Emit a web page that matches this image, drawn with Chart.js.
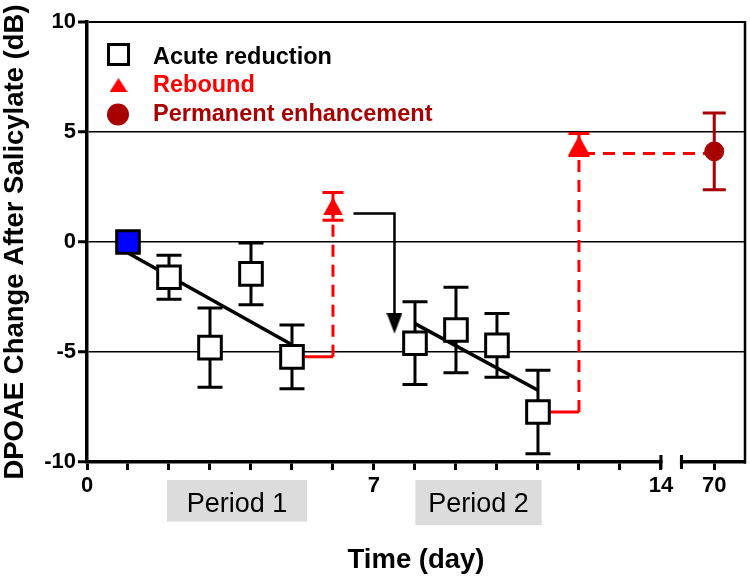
<!DOCTYPE html>
<html lang="en">
<head>
<meta charset="UTF-8">
<title>DPOAE Change After Salicylate</title>
<style>
  body { margin: 0; background: #fff; }
  #wrap { width: 750px; height: 581px; }
</style>
<script src="https://cdn.jsdelivr.net/npm/chart.js"></script>
</head>
<body>
<div id="wrap"><canvas id="grafico" width="750" height="581"></canvas></div>
<script>
// valores (dias, dB)
const acuteDays = [1, 2, 3, 4, 5, 8, 9, 10, 11];
const acuteMean = [0, -1.6, -4.8, -1.45, -5.22, -4.6, -4.0, -4.7, -7.73];
const acuteErr  = [0, 1.0, 1.8, 1.4, 1.45, 1.88, 1.94, 1.45, 1.9];

const reboundDays = [6, 12];
const reboundMean = [1.62, 4.43];
const reboundErr  = [0.63, 0.5];

const permDays = [70];
const permMean = [4.12];
const permErr  = [1.74];

// retas de regressao de cada periodo
const fit1Days = [1, 5];
const fit1Vals = [-0.5, -4.67];
const fit2Days = [8, 11];
const fit2Vals = [-3.71, -6.74];

// ligacoes ate o rebound (horizontal cheia, vertical tracejada)
const step1Days = [5, 6, 6];
const step1Vals = [-5.22, -5.22, 1.62];
const step2Days = [11, 12, 12];
const step2Vals = [-7.73, -7.73, 4.43];
const holdDays = [12, 70];
const holdVals = [4.02, 4.02];

// seta do rebound para o periodo 2
const arrowDays = [6.5, 7.5, 7.5];
const arrowVals = [1.3, 1.3, -3.69];

const yTicks = [-10, -5, 0, 5, 10];
const xTickDays = [0, 1, 2, 3, 4, 5, 6, 7, 8, 9, 10, 11, 12, 13, 14, 70];
const xTickLabels = ['0', '', '', '', '', '', '', '7', '', '', '', '', '', '', '14', '70'];

const periods = [
    { label: 'Period 1', from: 1.95, to: 5.37, h: 41.5 },
    { label: 'Period 2', from: 8.01, to: 11.09, h: 45 }
];

// quebra do eixo x: 14 | 69.2 .. 70.75
const breakDay = 69.2;
const lastDay = 70.75;
function axisX(d) { return d > 14 ? d - breakDay + 14.5 : d; }
function pts(days, vals) { return days.map((d, i) => ({ x: axisX(d), y: vals[i] })); }

const RED = '#ff0000';
const DARKRED = '#a80000';
const FONT = "'Liberation Sans', Arial, sans-serif";

function triangulo(w, h, color, down) {
    const c = document.createElement('canvas');
    c.width = w; c.height = h;
    const g = c.getContext('2d');
    g.fillStyle = color;
    g.beginPath();
    if (down) { g.moveTo(0, 0); g.lineTo(w, 0); g.lineTo(w / 2, h); }
    else { g.moveTo(w / 2, 0); g.lineTo(w, h); g.lineTo(0, h); }
    g.closePath();
    g.fill();
    return c;
}
const triRebound = triangulo(20, 18, RED, false);
const triLegend = triangulo(18, 14, RED, false);
const arrowHead = triangulo(16, 21, '#000', true);

// barras de erro desenhadas pelas escalas do grafico
const errorBars = {
    id: 'errorBars',
    beforeDatasetsDraw(chart) {
        const ctx = chart.ctx, xs = chart.scales.x, ys = chart.scales.y;
        chart.data.datasets.forEach(ds => {
            if (!ds.errors) return;
            ctx.save();
            ctx.strokeStyle = ds.errorColor;
            ctx.lineWidth = 3;
            ds.data.forEach((p, i) => {
                const e = ds.errors[i];
                if (!e) return;
                const px = xs.getPixelForValue(p.x);
                const top = ys.getPixelForValue(p.y + e);
                const bot = ys.getPixelForValue(p.y - e);
                const half = ds.capHalf;
                ctx.beginPath();
                ctx.moveTo(px, top); ctx.lineTo(px, bot);
                ctx.moveTo(px - half, top); ctx.lineTo(px + half, top);
                ctx.moveTo(px - half, bot); ctx.lineTo(px + half, bot);
                ctx.stroke();
            });
            ctx.restore();
        });
    }
};

// moldura, quebra do eixo, periodos e legenda
const extras = {
    id: 'extras',
    afterDraw(chart) {
        const ctx = chart.ctx, a = chart.chartArea, xs = chart.scales.x;
        ctx.save();

        // moldura direita
        ctx.strokeStyle = '#000';
        ctx.lineWidth = 2.5;
        ctx.beginPath();
        ctx.moveTo(a.right, a.top - 1);
        ctx.lineTo(a.right, a.bottom + 1.5);
        ctx.stroke();

        // quebra do eixo x
        const b0 = xs.getPixelForValue(14);
        const b1 = xs.getPixelForValue(axisX(breakDay));
        ctx.fillStyle = '#fff';
        ctx.fillRect(b0 + 1.5, a.bottom - 3, b1 - b0 - 3, 6);
        ctx.lineWidth = 3;
        ctx.beginPath();
        ctx.moveTo(b0, a.bottom - 7); ctx.lineTo(b0, a.bottom + 7);
        ctx.moveTo(b1, a.bottom - 7); ctx.lineTo(b1, a.bottom + 7);
        ctx.stroke();

        // caixas dos periodos
        periods.forEach(p => {
            const l = xs.getPixelForValue(p.from), r = xs.getPixelForValue(p.to);
            ctx.fillStyle = '#dcdcdc';
            ctx.fillRect(l, a.bottom + 18, r - l, p.h);
            ctx.fillStyle = '#000';
            ctx.font = '27px ' + FONT;
            ctx.textAlign = 'center';
            ctx.textBaseline = 'alphabetic';
            ctx.fillText(p.label, (l + r) / 2, a.bottom + 49.5);
        });

        // legenda
        const lx = a.left + 31.5, ty = a.top;
        ctx.fillStyle = '#fff';
        ctx.strokeStyle = '#000';
        ctx.lineWidth = 3;
        ctx.fillRect(lx - 10, ty + 22.5, 20, 20);
        ctx.strokeRect(lx - 10, ty + 22.5, 20, 20);
        ctx.drawImage(triLegend, lx - 9, ty + 56);
        ctx.fillStyle = DARKRED;
        ctx.beginPath();
        ctx.arc(lx - 0.5, ty + 92.5, 11, 0, Math.PI * 2);
        ctx.fill();

        ctx.font = 'bold 23.5px ' + FONT;
        ctx.textAlign = 'left';
        ctx.textBaseline = 'alphabetic';
        ctx.fillStyle = '#000';
        ctx.fillText('Acute reduction', a.left + 66, ty + 41.5);
        ctx.fillStyle = RED;
        ctx.fillText('Rebound', a.left + 66, ty + 70.3);
        ctx.fillStyle = DARKRED;
        ctx.fillText('Permanent enhancement', a.left + 66, ty + 99);
        ctx.restore();
    }
};

const ctx = document.getElementById('grafico').getContext('2d');
new Chart(ctx, {
    type: 'scatter',
    data: {
        datasets: [
            {
                label: 'Acute reduction',
                data: pts(acuteDays, acuteMean),
                errors: acuteErr, errorColor: '#000', capHalf: 12.5,
                pointStyle: 'rect',
                pointRadius: 16,
                borderWidth: 3,
                borderColor: '#000',
                backgroundColor: acuteDays.map((d, i) => i === 0 ? '#0000ff' : '#fff'),
                order: 1
            },
            {
                label: 'Rebound',
                data: pts(reboundDays, reboundMean),
                errors: reboundErr, errorColor: RED, capHalf: 10.5,
                pointStyle: triRebound,
                pointRadius: 10,
                order: 1
            },
            {
                label: 'Permanent enhancement',
                data: pts(permDays, permMean),
                errors: permErr, errorColor: DARKRED, capHalf: 11.5,
                pointStyle: 'circle',
                pointRadius: 9.5,
                borderWidth: 1,
                borderColor: DARKRED,
                backgroundColor: DARKRED,
                order: 1
            },
            {
                data: pts(fit1Days, fit1Vals),
                showLine: true, borderColor: '#000', borderWidth: 3.5, pointRadius: 0, order: 3
            },
            {
                data: pts(fit2Days, fit2Vals),
                showLine: true, borderColor: '#000', borderWidth: 3.5, pointRadius: 0, order: 3
            },
            {
                data: pts(step1Days, step1Vals),
                showLine: true, borderColor: RED, borderWidth: 3, pointRadius: 0, order: 4,
                segment: { borderDash: c => c.p0DataIndex === 1 ? [12, 8] : undefined }
            },
            {
                data: pts(step2Days, step2Vals),
                showLine: true, borderColor: RED, borderWidth: 3, pointRadius: 0, order: 4,
                segment: { borderDash: c => c.p0DataIndex === 1 ? [12, 8] : undefined }
            },
            {
                data: pts(holdDays, holdVals),
                showLine: true, borderColor: RED, borderWidth: 3, pointRadius: 0, order: 4,
                borderDash: [12, 8], borderDashOffset: 16
            },
            {
                data: pts(arrowDays, arrowVals),
                showLine: true, borderColor: '#000', borderWidth: 2.5, order: 2,
                pointStyle: arrowHead,
                pointRadius: c => c.dataIndex === arrowDays.length - 1 ? 10 : 0
            }
        ]
    },
    options: {
        responsive: false,
        animation: false,
        events: [],
        layout: { autoPadding: false, padding: { top: 22, right: 5, bottom: 0, left: 0 } },
        plugins: { legend: { display: false }, tooltip: { enabled: false } },
        scales: {
            x: {
                type: 'linear',
                min: 0,
                max: axisX(lastDay),
                afterFit: s => { s.height = 119; s.paddingLeft = 0; s.paddingRight = 0; },
                afterBuildTicks: s => { s.ticks = xTickDays.map(d => ({ value: axisX(d) })); },
                ticks: {
                    autoSkip: false,
                    maxRotation: 0,
                    padding: 2.5,
                    color: '#000',
                    font: { family: FONT, size: 22, weight: 'bold' },
                    callback: (v, i) => xTickLabels[i]
                },
                grid: { drawOnChartArea: false, tickLength: 8, tickWidth: 3, tickColor: '#000' },
                border: { width: 3.5, color: '#000' },
                title: {
                    display: true,
                    text: 'Time (day)',
                    color: '#000',
                    font: { family: FONT, size: 27.5, weight: 'bold', lineHeight: 1 },
                    padding: { top: 0, bottom: 6.5 }
                }
            },
            y: {
                min: -10,
                max: 10,
                afterFit: s => { s.width = 87; s.paddingTop = 0; s.paddingBottom = 0; },
                afterBuildTicks: s => { s.ticks = yTicks.map(v => ({ value: v })); },
                ticks: {
                    padding: 2,
                    color: '#000',
                    font: { family: FONT, size: 22, weight: 'bold' }
                },
                grid: {
                    color: '#000',
                    lineWidth: c => c.tick && c.tick.value === 10 ? 2 : 1.5,
                    tickLength: 9,
                    tickWidth: 3,
                    tickColor: '#000'
                },
                border: { width: 3.5, color: '#000' },
                title: {
                    display: true,
                    text: 'DPOAE Change After Salicylate (dB)',
                    color: '#000',
                    font: { family: FONT, size: 27.5, weight: 'bold', lineHeight: 1 },
                    padding: { top: 1.5, bottom: 0 }
                }
            }
        }
    },
    plugins: [errorBars, extras]
});
</script>
</body>
</html>
